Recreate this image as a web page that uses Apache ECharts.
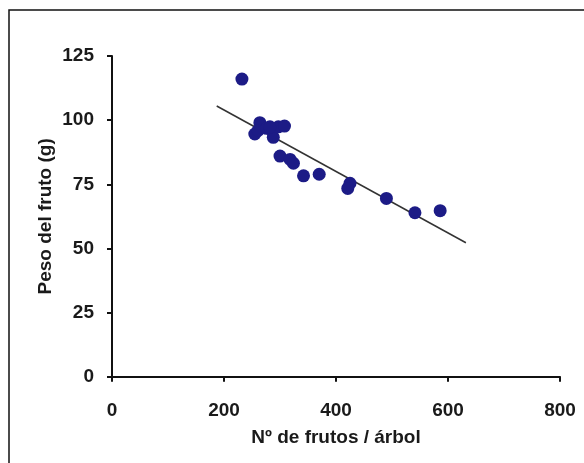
<!DOCTYPE html>
<html>
<head>
<meta charset="utf-8">
<script src="https://cdn.jsdelivr.net/npm/echarts@6/dist/echarts.min.js"></script>
<style>
html,body{margin:0;padding:0;background:#fff;}
#chart{width:584px;height:463px;}
</style>
</head>
<body>
<div id="chart"></div>
<script>
// Data
const frutosX = [232, 264, 255, 261, 276, 288, 297, 308, 282, 300, 318, 324, 342, 370, 425, 421, 490, 541, 586];
const pesoY   = [116, 99, 94.6, 96, 96.8, 93.3, 97.4, 97.7, 97.4, 86, 84.7, 83.2, 78.3, 78.9, 75.4, 73.4, 69.5, 63.9, 64.7];
// Regression line endpoints as drawn
const fitX = [187, 632];
const fitY = [105.5, 52.2];
const xTicks = [0, 200, 400, 600, 800];
const yTicks = [0, 25, 50, 75, 100, 125];
const xTitle = 'Nº de frutos / árbol';
const yTitle = 'Peso del fruto (g)';

const pts = frutosX.map((x, i) => [x, pesoY[i]]);
const fit = fitX.map((x, i) => [x, fitY[i]]);
const font = '"Liberation Sans", Arial, sans-serif';

const chart = echarts.init(document.getElementById('chart'), null, {renderer: 'canvas'});
chart.setOption({
  backgroundColor: '#ffffff',
  animation: false,
  graphic: [{
    type: 'rect',
    shape: {x: 9, y: 10, width: 620, height: 500},
    style: {fill: 'none', stroke: '#111', lineWidth: 1.5},
    silent: true
  }],
  grid: {left: 112, right: 24, top: 56, bottom: 86.3, containLabel: false},
  xAxis: {
    type: 'value',
    min: xTicks[0], max: xTicks[xTicks.length - 1], interval: xTicks[1] - xTicks[0],
    name: xTitle, nameLocation: 'middle', nameGap: 52, nameMoveOverlap: false,
    nameTextStyle: {fontFamily: font, fontWeight: 'bold', fontSize: 19, color: '#1a1a1a'},
    axisLine: {lineStyle: {color: '#111', width: 2}},
    axisTick: {show: true, inside: false, length: 5, lineStyle: {color: '#111', width: 2}},
    axisLabel: {fontFamily: font, fontWeight: 'bold', fontSize: 19, color: '#1a1a1a', margin: 25},
    splitLine: {show: false}
  },
  yAxis: {
    type: 'value',
    min: yTicks[0], max: yTicks[yTicks.length - 1], interval: yTicks[1] - yTicks[0],
    name: yTitle, nameLocation: 'middle', nameGap: 57, nameMoveOverlap: false,
    nameTextStyle: {fontFamily: font, fontWeight: 'bold', fontSize: 19, color: '#1a1a1a'},
    axisLine: {show: true, lineStyle: {color: '#111', width: 2}},
    axisTick: {show: true, inside: false, length: 5, lineStyle: {color: '#111', width: 2}},
    axisLabel: {fontFamily: font, fontWeight: 'bold', fontSize: 19, color: '#1a1a1a', margin: 18},
    splitLine: {show: false}
  },
  series: [
    {
      type: 'line',
      data: fit,
      symbol: 'none',
      lineStyle: {color: '#333', width: 1.5},
      z: 2
    },
    {
      type: 'scatter',
      data: pts,
      symbol: 'circle',
      symbolSize: 13,
      itemStyle: {color: '#1c1b86', opacity: 1},
      z: 3
    }
  ]
});
</script>
</body>
</html>
